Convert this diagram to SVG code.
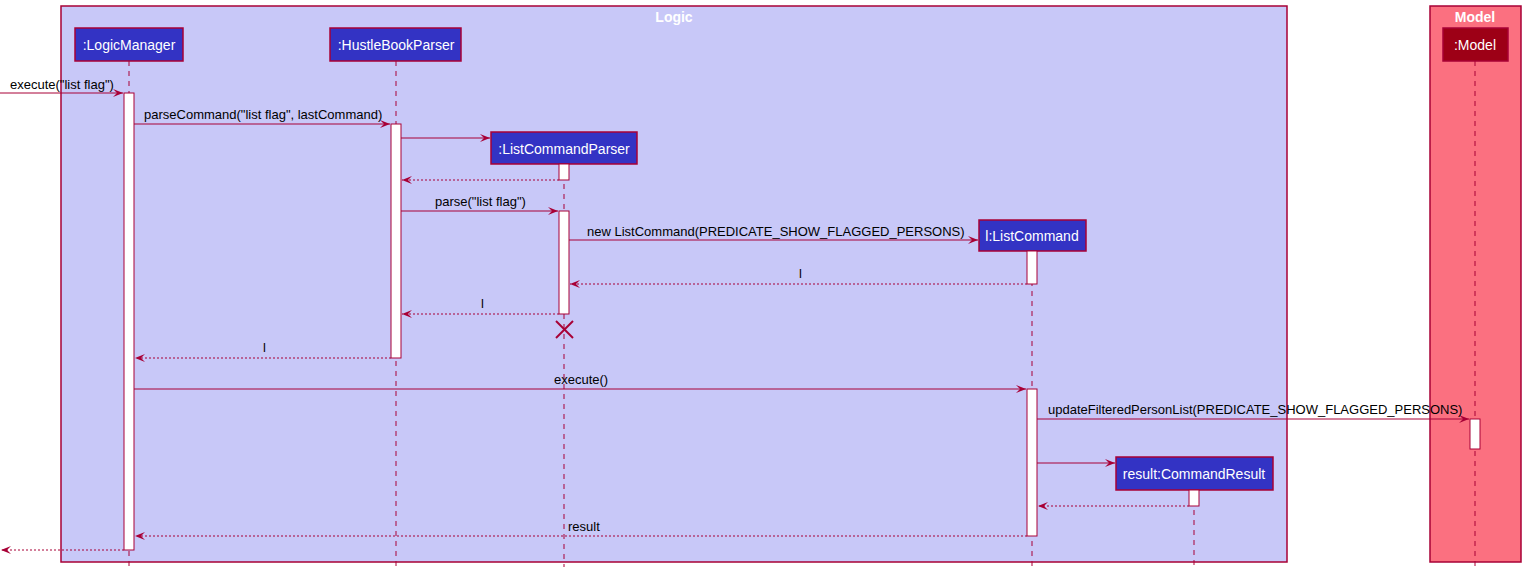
<svg xmlns="http://www.w3.org/2000/svg" width="1526" height="574" viewBox="0 0 1526 574">
<defs>
<style>
.box{stroke:#A80036;stroke-width:1.5}
.title{font-family:"Liberation Sans",Arial,sans-serif;font-size:14px;font-weight:bold;fill:#FFFFFF;text-anchor:middle}
.part{fill:#3333C4;stroke:#A80036;stroke-width:1.5}
.ptxt{font-family:"Liberation Sans",Arial,sans-serif;font-size:14px;fill:#FFFFFF;text-anchor:middle}
.life{stroke:#A80036;stroke-width:1;stroke-dasharray:5,5;fill:none}
.act{fill:#FFFFFF;stroke:#A80036;stroke-width:1}
.msg{stroke:#A80036;stroke-width:1;fill:none;marker-end:url(#ah)}
.ret{stroke:#A80036;stroke-width:1;stroke-dasharray:2,2;fill:none;marker-end:url(#ah)}
.lbl{font-family:"Liberation Sans",Arial,sans-serif;font-size:13px;fill:#000000}
</style>
<marker id="ah" viewBox="0 0 10 8" refX="10" refY="4" markerWidth="10" markerHeight="8" orient="auto" markerUnits="userSpaceOnUse">
<path d="M0,0 L10,4 L0,8 L4,4 Z" fill="#A80036"/>
</marker>
</defs>

<g id="box-logic">
<rect class="box" x="61" y="6" width="1226" height="556" fill="#C8C8F8"/>
<text class="title" x="674" y="22">Logic</text>
</g>
<g id="box-model">
<rect class="box" x="1430" y="6" width="91" height="556" fill="#FB7080"/>
<text class="title" x="1475" y="22">Model</text>
</g>

<g id="lifelines">
<line class="life" x1="129" y1="61" x2="129" y2="567"/>
<line class="life" x1="396" y1="61" x2="396" y2="567"/>
<line class="life" x1="564" y1="164" x2="564" y2="567"/>
<line class="life" x1="1032" y1="251" x2="1032" y2="567"/>
<line class="life" x1="1194" y1="490" x2="1194" y2="567"/>
<line class="life" x1="1475" y1="61" x2="1475" y2="567"/>
</g>

<g id="LogicManager">
<rect class="part" x="75" y="28" width="108" height="33"/>
<text class="ptxt" x="129" y="50">:LogicManager</text>
<rect class="act" x="124" y="93" width="10" height="457"/>
</g>
<g id="HustleBookParser">
<rect class="part" x="330" y="28" width="131" height="33"/>
<text class="ptxt" x="396" y="50">:HustleBookParser</text>
<rect class="act" x="391" y="124" width="10" height="234"/>
</g>
<g id="ListCommandParser">
<rect class="part" x="491" y="132" width="146" height="32"/>
<text class="ptxt" x="564" y="154">:ListCommandParser</text>
<rect class="act" x="559" y="164" width="10" height="16"/>
<rect class="act" x="559" y="211" width="10" height="103"/>
<line x1="556" y1="321" x2="573" y2="338" stroke="#A80036" stroke-width="2"/>
<line x1="573" y1="321" x2="556" y2="338" stroke="#A80036" stroke-width="2"/>
</g>
<g id="ListCommand">
<rect class="part" x="979" y="220" width="107" height="31"/>
<text class="ptxt" x="1032" y="241">l:ListCommand</text>
<rect class="act" x="1027" y="251" width="10" height="33"/>
<rect class="act" x="1027" y="389" width="10" height="147"/>
</g>
<g id="CommandResult">
<rect class="part" x="1116" y="457" width="157" height="33"/>
<text class="ptxt" x="1194" y="479">result:CommandResult</text>
<rect class="act" x="1189" y="490" width="10" height="16"/>
</g>
<g id="Model">
<rect x="1443" y="28" width="65" height="33" fill="#9D0016" stroke="#A80036" stroke-width="1.5"/>
<text class="ptxt" x="1475" y="50">:Model</text>
<rect class="act" x="1470" y="419" width="10" height="30"/>
</g>

<g id="connectors">
<line class="msg" x1="0" y1="93" x2="123" y2="93"/>
<text class="lbl" x="10" y="89">execute("list flag")</text>
<line class="msg" x1="134" y1="124" x2="390" y2="124"/>
<text class="lbl" x="144" y="119">parseCommand("list flag", lastCommand)</text>
<line class="msg" x1="401" y1="138" x2="490" y2="138"/>
<line class="ret" x1="559" y1="180" x2="402" y2="180"/>
<line class="msg" x1="401" y1="211" x2="558" y2="211"/>
<text class="lbl" x="435" y="206">parse("list flag")</text>
<line class="msg" x1="569" y1="240" x2="978" y2="240"/>
<text class="lbl" x="587" y="236">new ListCommand(PREDICATE_SHOW_FLAGGED_PERSONS)</text>
<line class="ret" x1="1027" y1="284" x2="570" y2="284"/>
<text class="lbl" x="799" y="278">l</text>
<line class="ret" x1="559" y1="314" x2="402" y2="314"/>
<text class="lbl" x="481" y="308">l</text>
<line class="ret" x1="391" y1="358" x2="135" y2="358"/>
<text class="lbl" x="263" y="352">l</text>
<line class="msg" x1="134" y1="389" x2="1026" y2="389"/>
<text class="lbl" x="554" y="384">execute()</text>
<line class="msg" x1="1037" y1="419" x2="1469" y2="419"/>
<text class="lbl" x="1048" y="414">updateFilteredPersonList(PREDICATE_SHOW_FLAGGED_PERSONS)</text>
<line class="msg" x1="1037" y1="463" x2="1115" y2="463"/>
<line class="ret" x1="1189" y1="506" x2="1038" y2="506"/>
<line class="ret" x1="1027" y1="536" x2="135" y2="536"/>
<text class="lbl" x="568" y="531">result</text>
<line class="ret" x1="124" y1="550" x2="1" y2="550"/>
</g>
</svg>
